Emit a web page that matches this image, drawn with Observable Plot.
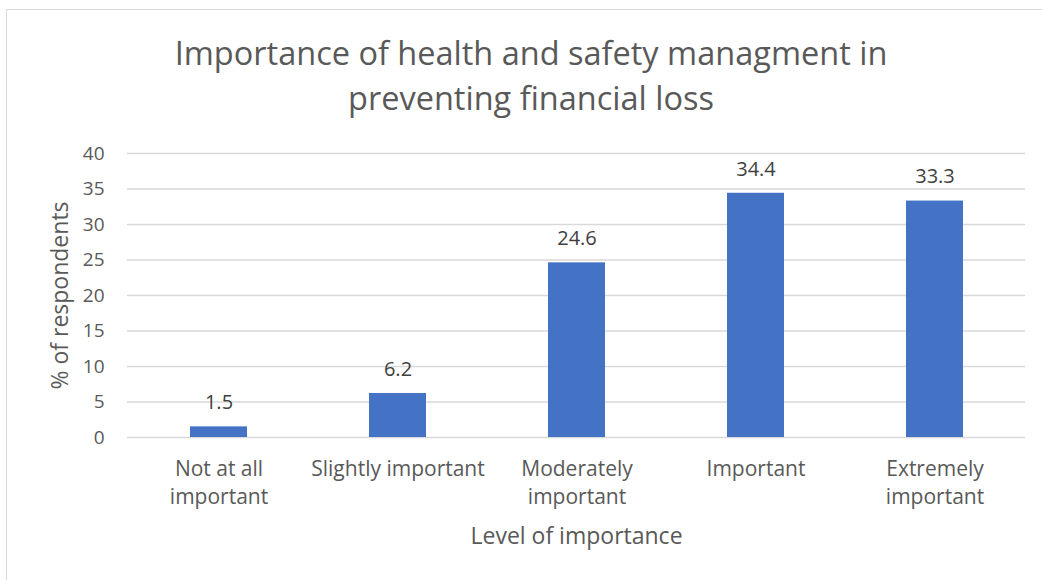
<!DOCTYPE html>
<html>
<head>
<meta charset="utf-8">
<script src="https://cdn.jsdelivr.net/npm/d3@7"></script>
<script src="https://cdn.jsdelivr.net/npm/@observablehq/plot@0.6"></script>
<style>
  body { margin: 0; background: #fff; }
  #wrap { position: relative; width: 1042px; height: 580px; overflow: hidden; font-family: "Open Sans", sans-serif; color: #595959; }
  #frame { position: absolute; left: 6px; top: 9px; width: 1100px; height: 700px; border: 1.5px solid #d9d9d9; box-sizing: border-box; }
  #title { position: relative; height: 130px; text-align: center; font-size: 32.5px; line-height: 45px; padding-top: 30px; box-sizing: border-box; padding-left: 20px; }
  #chart { position: relative; }
</style>
</head>
<body>
<div id="wrap">
  <div id="frame"></div>
  <div id="title">Importance of health and safety managment in<br>preventing financial loss</div>
  <div id="chart"></div>
</div>
<script>
const categories = ["Not at all\nimportant", "Slightly important", "Moderately\nimportant", "Important", "Extremely\nimportant"];
const values = [1.5, 6.2, 24.6, 34.4, 33.3];
const yTicks = [0, 5, 10, 15, 20, 25, 30, 35, 40];

const data = categories.map((c, i) => ({category: c, value: values[i]}));

const plot = Plot.plot({
  width: 1042,
  height: 450,
  marginLeft: 127,
  marginRight: 17,
  marginTop: 23,
  marginBottom: 143,
  style: {fontFamily: "Open Sans, sans-serif", color: "#595959", background: "transparent", overflow: "visible"},
  x: {domain: categories, paddingInner: 0.683, paddingOuter: 0.3415, align: 0.5},
  y: {domain: [0, 40], ticks: yTicks},
  marks: [
    Plot.gridY(yTicks, {stroke: "#d9d9d9", strokeOpacity: 1, strokeWidth: 1.3}),
    Plot.barY(data, {x: "category", y: "value", fill: "#4472C4"}),
    Plot.text(data, {x: "category", y: "value", text: d => d.value.toFixed(1), dy: -24, fontSize: 20, fill: "#404040"}),
    Plot.axisY(yTicks, {tickSize: 0, tickPadding: 23, fontSize: 19, label: null, fill: "#595959"}),
    Plot.axisX({tickSize: 0, tickPadding: 19, fontSize: 21, lineHeight: 1.33, label: null, fill: "#595959"}),
    Plot.text(["Level of importance"], {frameAnchor: "bottom", dy: 106, fontSize: 23, fill: "#595959"}),
    Plot.text(["% of respondents"], {frameAnchor: "left", textAnchor: "middle", dx: -67, rotate: -90, fontSize: 23, fill: "#595959"})
  ]
});
document.getElementById("chart").appendChild(plot);
</script>
</body>
</html>
